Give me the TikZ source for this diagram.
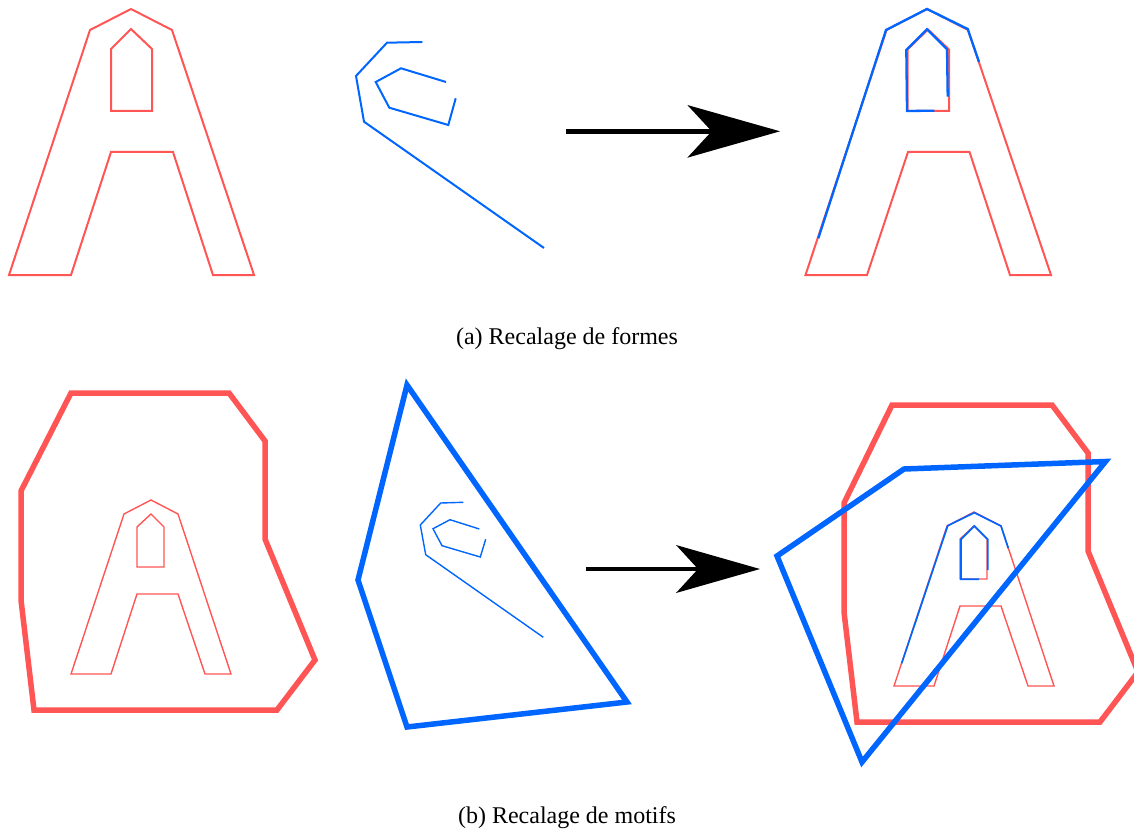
\documentclass[tikz,border=0pt]{standalone}
\usepackage{fontspec}
\setmainfont{Liberation Serif}
\definecolor{rd}{HTML}{FF5555}
\definecolor{bl}{HTML}{0066FF}
\tikzset{
  shp/.style={line join=miter,miter limit=10},
  redthin/.style={shp,draw=rd,line width=2pt},
  bluethin/.style={shp,draw=bl,line width=2pt},
  blueover/.style={shp,draw=bl,line width=2.3pt},
  redhair/.style={shp,draw=rd,line width=1.4pt},
  bluehair/.style={shp,draw=bl,line width=1.4pt},
  blueoverhair/.style={shp,draw=bl,line width=1.7pt},
  redthick/.style={shp,draw=rd,line width=5.5pt},
  bluethick/.style={shp,draw=bl,line width=5.5pt},
  captext/.style={inner sep=0pt,font=\fontsize{24}{28}\selectfont},
}
\begin{document}
\begin{tikzpicture}[x=1pt,y=-1pt]
\useasboundingbox (0,0) rectangle (1134,829);
\clip (0,0) rectangle (1134,829);
% top left
\draw[redthin] (131,9)--(172,30)--(254,275)--(213,275)--(173,152)--(111,152)--(71,275)--(9,275)--(90,30)--cycle;
\draw[redthin] (131,29)--(152,49)--(152,111)--(111,111)--(111,49)--cycle;
% top middle
\draw[bluethin] (422.3,42)--(387,42.7)--(356,76)--(364,121.7)--(544,248);
\draw[bluethin] (446,82)--(401,68.3)--(375.7,82)--(389.3,107.7)--(448.3,125)--(455.7,98.3);
% top arrow
\coordinate (a1) at (565.7,131.3);
\coordinate (a2) at (712,131.3);
\draw[line width=5pt] (a1)--(a2);
\fill (780,131.3)--(687.3,105)--(711.7,131.3)--(687.3,157.7)--cycle;
% top right
\draw[redthin] (927,9)--(968,30)--(1051,275)--(1010,275)--(969.5,152)--(908,152)--(867,275)--(805.5,275)--(886.5,30)--cycle;
\draw[redthin] (928,29.5)--(949,49.5)--(949,111)--(907.5,111)--(907.5,49.5)--cycle;
\draw[blueover] (818.3,238.3)--(886,30)--(927,9)--(967.7,29)--(979,62);
\draw[blueover] (947.7,96.7)--(947,49.3)--(927,29.3)--(906.3,50)--(907,111)--(934.3,110.7);
\node[captext] (ca) at (567,339) {(a) Recalage de formes};
% bottom left
\draw[redthick] (71,393)--(229,393)--(265,441)--(265,539)--(315,660)--(277,710)--(34,710)--(21,600)--(21,491)--cycle;
\draw[redhair] (151,500)--(178,514)--(231,674)--(205,674)--(178,594)--(137,594)--(111,674)--(71,674)--(124,514)--cycle;
\draw[redhair] (151,514)--(164,527)--(164,567)--(137,567)--(137,527)--cycle;
% bottom middle
\draw[bluethick] (407,385)--(627,702)--(407,727)--(358,580)--cycle;
\draw[bluehair] (463.3,502.3)--(440.7,503)--(420.3,525)--(425.7,554.7)--(543.3,637.3);
\draw[bluehair] (479.3,529)--(450,519.7)--(433,528.7)--(442,545.7)--(480.3,557)--(485.7,539.3);
% bottom arrow
\coordinate (b1) at (586,569);
\coordinate (b2) at (698,569);
\draw[line width=4.4pt] (b1)--(b2);
\fill (760,569)--(676,545)--(698,569)--(676,593)--cycle;
% bottom right
\draw[redthick] (892,405)--(1052,405)--(1088,453)--(1088,551)--(1138,672)--(1100,722)--(857,722)--(844,612)--(844,503)--cycle;
\draw[redhair] (974,512)--(1001,526)--(1054,686)--(1028,686)--(1001,606)--(960,606)--(934,686)--(894,686)--(947,526)--cycle;
\draw[redhair] (974,526)--(987,539)--(987,579)--(960,579)--(960,539)--cycle;
\draw[blueoverhair] (901.7,663.3)--(947.7,525.7)--(974.3,512.7)--(1001,526)--(1008.3,548.3);
\draw[blueoverhair] (987.7,570)--(987.7,539.3)--(974.3,526)--(961,539.3)--(961,579.3)--(979,579.3);
\draw[bluethick] (1105.5,461.5)--(862,762)--(777,556)--(904,469)--cycle;
\node[captext] (cb) at (567,818) {(b) Recalage de motifs};
\end{tikzpicture}
\end{document}
